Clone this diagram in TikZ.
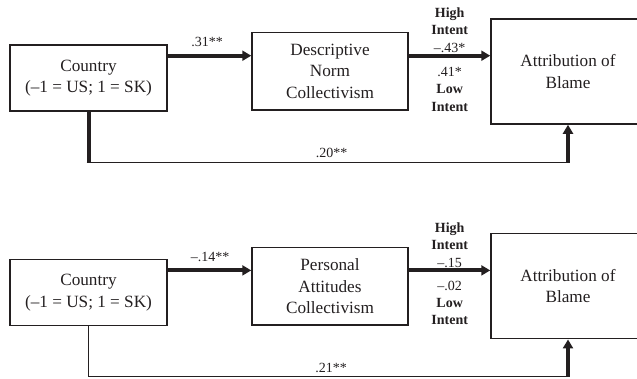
\documentclass[tikz,border=0pt]{standalone}
\usepackage{fontspec}
\setmainfont{Liberation Serif}
\usetikzlibrary{arrows.meta,calc}
\definecolor{ink}{HTML}{231F20}
\tikzset{
  boxnode/.style={draw=ink, line width=1.5pt, text=ink, align=center, inner sep=0pt,
    font=\fontsize{17.2}{21.5}\selectfont},
  lbl/.style={text=ink, align=center, inner sep=0pt, font=\fontsize{14}{17.3}\selectfont},
  heavy/.style={draw=ink, line width=4pt},
  heavyarrow/.style={draw=ink, line width=4pt, -{Triangle[length=9pt,width=10pt]}},
  lightline/.style={draw=ink, line width=1.5pt},
}
\begin{document}
\begin{tikzpicture}[x=1pt,y=-1pt]
\path[use as bounding box] (0,0) rectangle (637,378);
\clip (0,0) rectangle (637,378);

% ---------- top panel ----------
\node[boxnode, minimum width=157pt, minimum height=66pt] (c1) at (88.5,78) {Country\\(–1 = US; 1 = SK)};
\node[boxnode, minimum width=156pt, minimum height=77.7pt] (d1) at (330,71.2) {Descriptive\\Norm\\Collectivism};
\node[boxnode, minimum width=154pt, minimum height=105pt] (a1) at (568,71.5) {Attribution of\\Blame};
\coordinate (p1) at (0,55.7);
\coordinate (b1) at (0,162.3);
\draw[heavyarrow] (c1.east |- p1) -- (d1.west |- p1);
\draw[heavyarrow] (d1.east |- p1) -- (a1.west |- p1);
\draw[heavy] (c1.south) -- (c1.south |- b1);
\draw[lightline] ([xshift=-2pt]c1.south |- b1) -- ([xshift=2pt]a1.south |- b1);
\draw[heavyarrow] (a1.south |- b1) -- (a1.south);
\node[lbl] (l1) at (207,42) {.31**};
\node[lbl] (h1) at (449.7,30.2) {\textbf{High}\\\textbf{Intent}\\–.43*};
\node[lbl] (w1) at (449.7,89.3) {.41*\\\textbf{Low}\\\textbf{Intent}};
\node[lbl] (e1) at (331.5,153.3) {.20**};

% ---------- bottom panel ----------
\node[boxnode, minimum width=157pt, minimum height=66pt] (c2) at (88.5,292.7) {Country\\(–1 = US; 1 = SK)};
\node[boxnode, minimum width=156pt, minimum height=77.7pt] (d2) at (330,286.2) {Personal\\Attitudes\\Collectivism};
\node[boxnode, minimum width=154pt, minimum height=105pt] (a2) at (568,286.2) {Attribution of\\Blame};
\coordinate (p2) at (0,270.4);
\coordinate (b2) at (0,376.7);
\draw[heavyarrow] (c2.east |- p2) -- (d2.west |- p2);
\draw[heavyarrow] (d2.east |- p2) -- (a2.west |- p2);
\draw[lightline] (c2.south) -- (c2.south |- b2) -- ([xshift=2pt]a2.south |- b2);
\draw[heavyarrow] (a2.south |- b2) -- (a2.south);
\node[lbl] (l2) at (210,256.7) {–.14**};
\node[lbl] (h2) at (449.7,245) {\textbf{High}\\\textbf{Intent}\\–.15};
\node[lbl] (w2) at (449.7,303) {–.02\\\textbf{Low}\\\textbf{Intent}};
\node[lbl] (e2) at (331,368.3) {.21**};
\end{tikzpicture}
\end{document}
